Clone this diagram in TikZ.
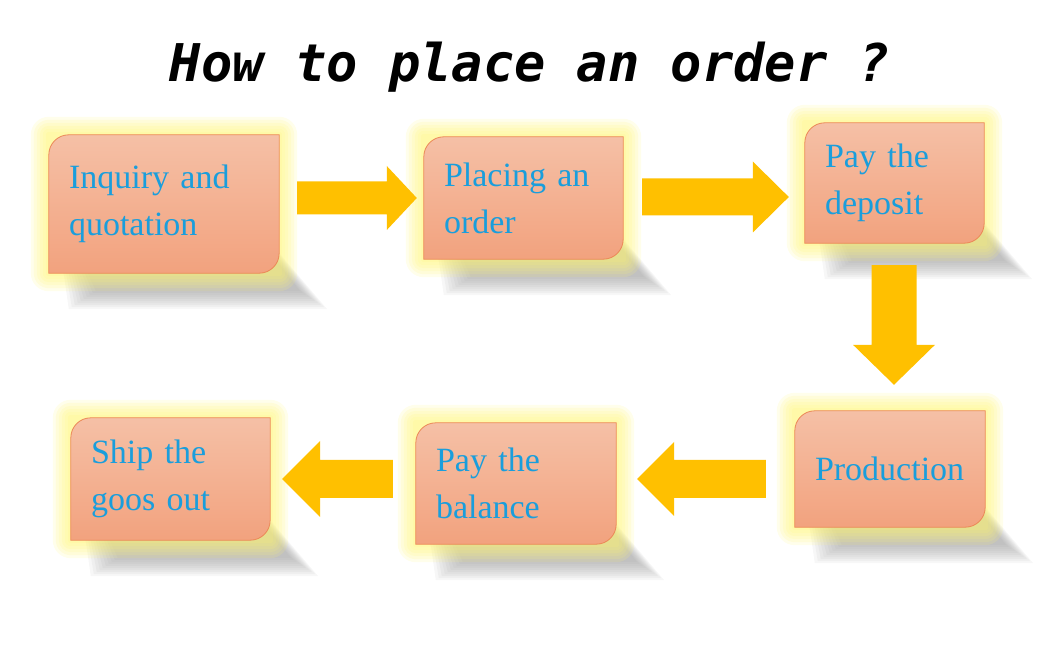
\documentclass[tikz,border=0pt]{standalone}
\usepackage{fontspec}
\setmainfont{Liberation Serif}[WordSpace=0.75]
\newfontfamily\titlefont{DejaVu Sans Mono}
\usetikzlibrary{calc,backgrounds}
\definecolor{cardtop}{RGB}{245,192,166}
\definecolor{cardbot}{RGB}{242,162,126}
\definecolor{cardline}{RGB}{236,136,86}
\definecolor{cardtext}{RGB}{26,158,220}
\definecolor{glowy}{RGB}{255,245,110}
\definecolor{arrowgold}{RGB}{255,192,0}
\definecolor{shadowgray}{RGB}{130,130,130}
\begin{document}
\begin{tikzpicture}[x=1pt,y=1pt,line join=round,
	card/.style n args={2}{rectangle,inner xsep=20pt,inner ysep=0pt,text width=#1,minimum height=#2,
		align=left,text=cardtext,font=\fontsize{34}{47}\selectfont},
	blockarrow/.style n args={3}{to path={
			let \p1=($(\tikztotarget)!#3!(\tikztostart)$) in
			($(\tikztostart)!#1!90:(\tikztotarget)$) -- ($(\p1)!#1!90:(\tikztotarget)$)
			-- ($(\p1)!#2!90:(\tikztotarget)$) -- (\tikztotarget)
			-- ($(\p1)!#2!-90:(\tikztotarget)$) -- ($(\p1)!#1!-90:(\tikztotarget)$)
			-- ($(\tikztostart)!#1!-90:(\tikztotarget)$) -- cycle}}]
	\useasboundingbox (0,0) rectangle (1044,667);
	\node[anchor=base,font=\titlefont\bfseries\itshape\fontsize{52}{52}\selectfont] (title) at (530,585) {How to place an order ?};
	% the six steps
	\node[card={190pt}{138pt}] (inquiry) at (164,463) {Inquiry and\\quotation};
	\node[card={159pt}{122pt}] (placing) at (523.5,469) {Placing an\\order};
	\node[card={139pt}{120pt}] (deposit) at (894.5,484) {Pay the\\deposit};
	\node[card={150pt}{116pt}] (production) at (890,198) {Production};
	\node[card={160pt}{121pt}] (balance) at (516,183.5) {Pay the\\balance};
	\node[card={159pt}{122pt}] (ship) at (170.5,188) {Ship the\\goos out};
	\begin{pgfonlayer}{background}
		\foreach \nd in {inquiry,placing,deposit,production,balance,ship}{
			\foreach \k in {0,...,9}
			\fill[shadowgray,opacity=.065] ($(\nd.south west)+(12+2*\k,20)$) -- ($(\nd.south east)+(-\k,20)$)
			-- ($(\nd.south east)+(48-3*\k,-36+2*\k)$) -- ($(\nd.south west)+(20+3*\k,-36+2*\k)$) -- cycle;
		}
		\foreach \nd in {inquiry,placing,deposit,production,balance,ship}{
			\foreach \g in {18,15,...,3}
			\fill[glowy,opacity=.14,rounded corners=\g pt] ($(\nd.south west)+(-\g,-\g)$) rectangle ($(\nd.north east)+(\g,\g)$);
		}
		\foreach \nd in {inquiry,placing,deposit,production,balance,ship}{
			\draw[cardline,line width=.8pt,top color=cardtop,bottom color=cardbot]
			(\nd.south west) -- ([yshift=-20pt]\nd.north west) arc[start angle=180,end angle=90,radius=20pt]
			-- (\nd.north east) -- ([yshift=20pt]\nd.south east) arc[start angle=0,end angle=-90,radius=20pt] -- cycle;
		}
	\end{pgfonlayer}
	% arrows between the steps
	\fill[arrowgold] ($(inquiry.east)+(18,6)$) to[blockarrow={16.5pt}{32pt}{30pt}] ($(placing.west)+(-7,0)$);
	\fill[arrowgold] ($(placing.east)+(19,1)$) to[blockarrow={18.5pt}{35.5pt}{36pt}] ($(deposit.west)+(-16,-14)$);
	\fill[arrowgold] ($(deposit.south)+(-0.5,-22)$) to[blockarrow={22.5pt}{41pt}{40pt}] ($(production.north)+(4,26)$);
	\fill[arrowgold] ($(production.west)+(-29,-10)$) to[blockarrow={19pt}{37pt}{37pt}] ($(balance.east)+(21,4.5)$);
	\fill[arrowgold] ($(balance.west)+(-23,4.5)$) to[blockarrow={19pt}{38pt}{38pt}] ($(ship.east)+(12,0)$);
\end{tikzpicture}
\end{document}
